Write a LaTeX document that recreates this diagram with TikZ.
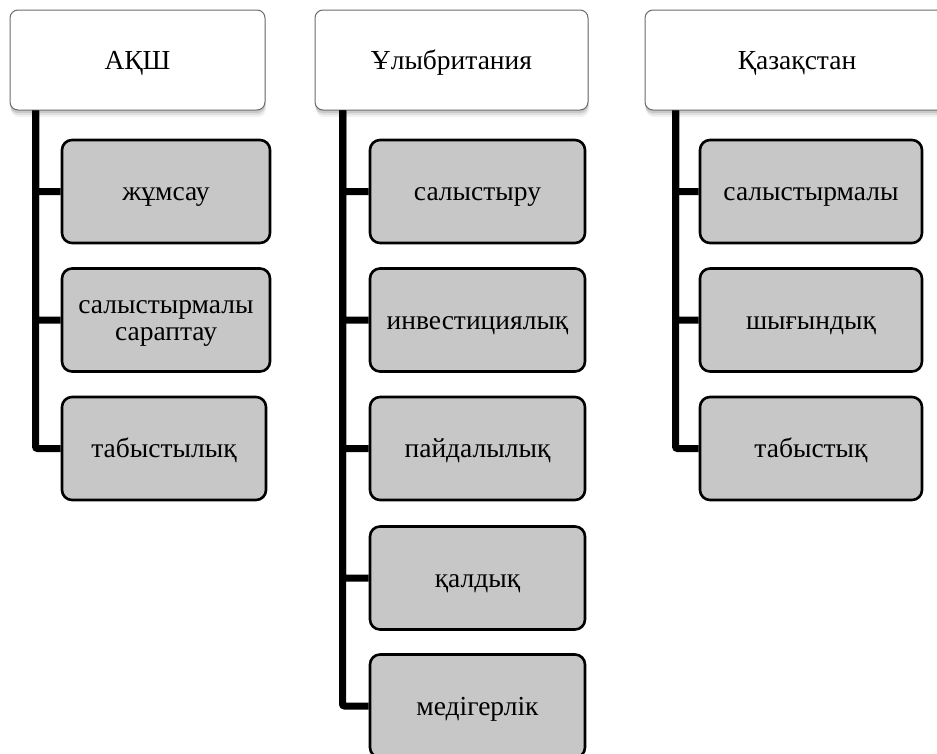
\documentclass[tikz,border=0pt]{standalone}
\usepackage{fontspec}
\setmainfont{Liberation Serif}
\usetikzlibrary{calc,shadows}

\tikzset{
  country/.style={draw=black!58,fill=white,rounded corners=8pt,line width=1pt,
    minimum height=100pt,inner sep=0pt,text height=18pt,text depth=0pt,
    drop shadow={opacity=0.10,shadow xshift=1pt,shadow yshift=-7pt},
    drop shadow={opacity=0.15,shadow xshift=0.5pt,shadow yshift=-5pt},
    drop shadow={opacity=0.25,shadow xshift=0pt,shadow yshift=-3pt}},
  item/.style={draw=black,fill=black!22,rounded corners=10pt,line width=2.6pt,
    minimum height=103pt,inner sep=0pt,align=center,text height=18pt,text depth=0pt},
  branch/.style={line width=7pt,rounded corners=2pt}
}

\begin{document}
\begin{tikzpicture}[x=1pt,y=-1pt,font=\fontsize{27.5}{27}\selectfont]
    \useasboundingbox (0,0) rectangle (937,753);
    % top row
    \node[country,minimum width=255pt] (usa) at (137.5,60) {АҚШ};
    \node[country,minimum width=273pt] (uk) at (451.5,60) {Ұлыбритания};
    \node[country,minimum width=304pt] (kz) at (797,60) {Қазақстан};

    % АҚШ
    \node[item,minimum width=208pt] (usa1) at (166,191.5) {жұмсау};
    \node[item,minimum width=208pt,text height=45pt,text depth=5pt] (usa2) at (166,320) {салыстырмалы\\сараптау};
    \node[item,minimum width=204pt] (usa3) at (164,448.5) {табыстылық};
    \draw[branch] ($(usa.south west)+(26,0)$) |- (usa1.west);
    \draw[branch] ($(usa.south west)+(26,0)$) |- (usa2.west);
    \draw[branch] ($(usa.south west)+(26,0)$) |- (usa3.west);

    % Ұлыбритания
    \node[item,minimum width=215pt] (uk1) at (477.5,191.5) {салыстыру};
    \node[item,minimum width=215pt] (uk2) at (477.5,320) {инвестициялық};
    \node[item,minimum width=215pt] (uk3) at (477.5,448.5) {пайдалылық};
    \node[item,minimum width=215pt] (uk4) at (477.5,578) {қалдық};
    \node[item,minimum width=215pt] (uk5) at (477.5,706) {медігерлік};
    \draw[branch] ($(uk.south west)+(28,0)$) |- (uk1.west);
    \draw[branch] ($(uk.south west)+(28,0)$) |- (uk2.west);
    \draw[branch] ($(uk.south west)+(28,0)$) |- (uk3.west);
    \draw[branch] ($(uk.south west)+(28,0)$) |- (uk4.west);
    \draw[branch] ($(uk.south west)+(28,0)$) |- (uk5.west);

    % Қазақстан
    \node[item,minimum width=222pt] (kz1) at (811,191.5) {салыстырмалы};
    \node[item,minimum width=222pt] (kz2) at (811,320) {шығындық};
    \node[item,minimum width=222pt] (kz3) at (811,448.5) {табыстық};
    \draw[branch] ($(kz.south west)+(31,0)$) |- (kz1.west);
    \draw[branch] ($(kz.south west)+(31,0)$) |- (kz2.west);
    \draw[branch] ($(kz.south west)+(31,0)$) |- (kz3.west);
\end{tikzpicture}
\end{document}
